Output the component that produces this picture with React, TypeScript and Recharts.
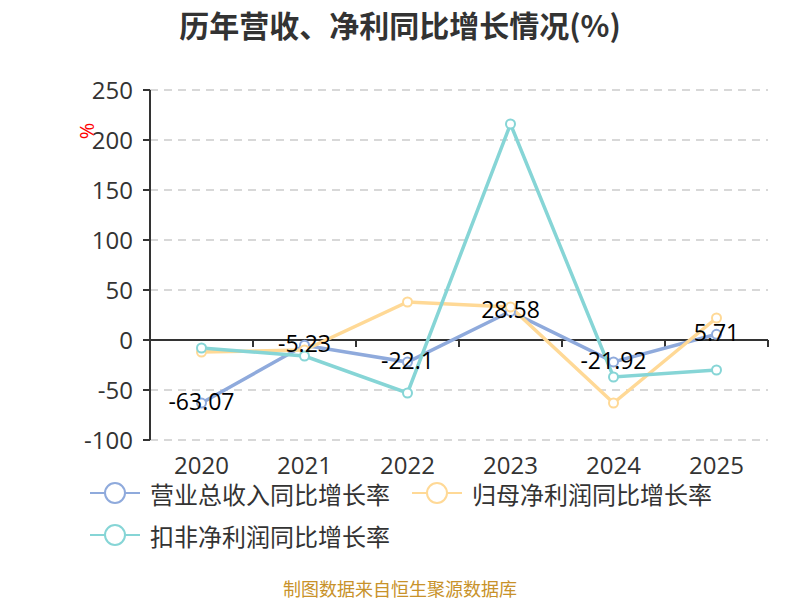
import React from 'react';
import { LineChart, Line, XAxis, YAxis, CartesianGrid, ReferenceLine, LabelList } from 'recharts';

const years = ['2020', '2021', '2022', '2023', '2024', '2025'];
const revenueGrowth = [-63.07, -5.23, -22.1, 28.58, -21.92, 5.71];
const netProfitGrowth = [-12, -10, 38, 33, -63, 22];
const deductedProfitGrowth = [-8, -16, -53, 216, -37, -30];
const yTicks = [-100, -50, 0, 50, 100, 150, 200, 250];

const seriesKeys = ['revenue', 'netProfit', 'deducted'];
const seriesNames = ['营业总收入同比增长率', '归母净利润同比增长率', '扣非净利润同比增长率'];
const seriesColors = ['#8FAADC', '#FFD996', '#86D5D6'];

const data = years.map((year, i) => ({
  year,
  revenue: revenueGrowth[i],
  netProfit: netProfitGrowth[i],
  deducted: deductedProfitGrowth[i],
}));

const NUM_FONT = "'Open Sans', 'Noto Sans CJK SC', sans-serif";
const CJK_FONT = "'Noto Sans CJK SC', 'Open Sans', sans-serif";

const ZeroLine = (props: any) => {
  const { x1, x2, y1 } = props;
  const n = years.length;
  const step = (x2 - x1) / n;
  const ticks = Array.from({ length: n + 1 }, (_, i) => x1 + i * step);
  return (
    <g>
      <line x1={x1} x2={x2} y1={y1} y2={y1} stroke="#333" strokeWidth={2} />
      {ticks.map((tx, i) => (
        <line key={i} x1={tx} x2={tx} y1={y1} y2={y1 + 7} stroke="#333" strokeWidth={2} />
      ))}
    </g>
  );
};

const XTick = (props: any) => {
  const { x, y, payload } = props;
  return (
    <text x={x} y={y + 24} textAnchor="middle" dominantBaseline="central" fontSize={24} fill="#333" fontFamily={NUM_FONT}>
      {payload.value}
    </text>
  );
};

const ValueLabel = (props: any) => {
  const { x, y, value } = props;
  return (
    <text x={x} y={y - 2} textAnchor="middle" dominantBaseline="central" fontSize={23} fill="#000" fontFamily={NUM_FONT}>
      {value}
    </text>
  );
};

const LegendIcon = ({ color }: { color: string }) => (
  <svg width={50} height={24} style={{ display: 'block' }}>
    <line x1={0} x2={50} y1={12} y2={12} stroke={color} strokeWidth={2} />
    <circle cx={25} cy={12} r={10} fill="#fff" stroke={color} strokeWidth={2} />
  </svg>
);

export default function App() {
  return (
    <div style={{ position: 'absolute', left: 0, top: 0, width: 800, height: 600, background: '#fff', overflow: 'hidden' }}>
      <div
        style={{
          position: 'absolute', left: 0, top: 0, width: 800, height: 48, lineHeight: '48px',
          textAlign: 'center', fontSize: 30, fontWeight: 'bold', color: '#333', fontFamily: CJK_FONT,
        }}
      >
        历年营收、净利同比增长情况(%)
      </div>
      <div
        style={{
          position: 'absolute', left: 74, top: 118, width: 26, height: 26, lineHeight: '26px',
          textAlign: 'center', fontSize: 20, color: '#f00', fontFamily: NUM_FONT, transform: 'rotate(-90deg)',
        }}
      >
        %
      </div>
      <LineChart width={800} height={600} data={data} margin={{ top: 90, right: 32, bottom: 120, left: 0 }}>
        <CartesianGrid vertical={false} stroke="#cccccc" strokeWidth={1.5} strokeDasharray="8 6" />
        <XAxis
          dataKey="year"
          scale="band"
          axisLine={false}
          tickLine={false}
          tickSize={0}
          tickMargin={0}
          height={40}
          tick={<XTick />}
          interval={0}
        />
        <YAxis
          width={150}
          domain={[-100, 250]}
          ticks={yTicks}
          interval={0}
          axisLine={{ stroke: '#333', strokeWidth: 2 }}
          tickLine={{ stroke: '#333', strokeWidth: 2 }}
          tickSize={7}
          tickMargin={10}
          tick={{ fontSize: 24, fill: '#333', fontFamily: NUM_FONT }}
        />
        <ReferenceLine y={0} shape={<ZeroLine />} />
        {seriesKeys.map((k, i) => (
          <Line
            key={k}
            type="linear"
            dataKey={k}
            stroke={seriesColors[i]}
            strokeWidth={3.5}
            dot={{ r: 4.5, fill: '#fff', stroke: seriesColors[i], strokeWidth: 2 }}
            activeDot={false}
            isAnimationActive={false}
          />
        ))}
        <Line
          type="linear"
          dataKey="revenue"
          stroke="none"
          dot={false}
          activeDot={false}
          legendType="none"
          isAnimationActive={false}
        >
          <LabelList dataKey="revenue" content={<ValueLabel />} />
        </Line>
      </LineChart>
      <div
        style={{
          position: 'absolute', left: 90, top: 472, width: 640, display: 'flex', flexWrap: 'wrap', columnGap: 22,
        }}
      >
        {seriesNames.map((name, i) => (
          <div key={name} style={{ display: 'flex', alignItems: 'center', height: 42 }}>
            <LegendIcon color={seriesColors[i]} />
            <span style={{ marginLeft: 10, fontSize: 24, color: '#333', fontFamily: CJK_FONT, whiteSpace: 'nowrap' }}>
              {name}
            </span>
          </div>
        ))}
      </div>
      <div
        style={{
          position: 'absolute', left: 0, top: 577, width: 800, height: 22, lineHeight: '22px',
          textAlign: 'center', fontSize: 18, color: '#C8922A', fontFamily: CJK_FONT,
        }}
      >
        制图数据来自恒生聚源数据库
      </div>
    </div>
  );
}
